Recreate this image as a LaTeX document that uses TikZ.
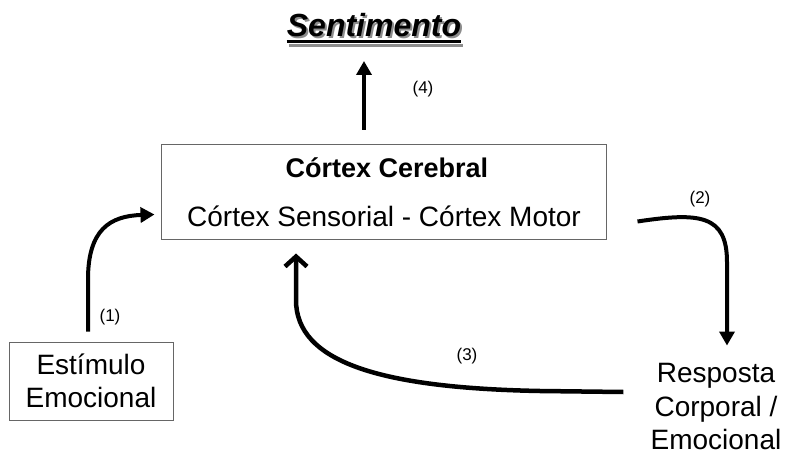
\documentclass[tikz,border=0pt]{standalone}
\usepackage{fontspec}
\setmainfont{Liberation Sans}
\usetikzlibrary{arrows.meta}
\begin{document}
\begin{tikzpicture}[x=1pt,y=-1pt,
  box/.style={draw=black!60, line width=1pt, inner sep=0pt},
  txt/.style={font=\fontsize{28}{33.5}\selectfont, inner sep=0pt, align=center},
  lbl/.style={font=\fontsize{17}{20}\selectfont, inner sep=0pt},
  ttl/.style={font=\fontsize{32}{38}\selectfont\bfseries\itshape, inner sep=0pt, anchor=base},
  arr/.style={line width=4pt, -{Triangle[length=14pt,width=15pt]}},
  arrb/.style={line width=4.5pt, -{Straight Barb[length=10pt,width=22pt]}}
]
\fill[white] (0,0) rectangle (785,460);
\useasboundingbox (0,0) rectangle (785,460);

% title with shadow
\node[ttl, text=black!45] (sentsh) at (376,39) {Sentimento};
\draw[line width=3pt, black!45] ([yshift=-7pt]sentsh.base west) -- ([yshift=-7pt]sentsh.base east);
\node[ttl] (sent) at (374,37) {Sentimento};
\draw[line width=3pt] ([yshift=-5pt]sent.base west) -- ([yshift=-5pt]sent.base east);

% boxes
\node[box, minimum width=445pt, minimum height=95pt] (cortex) at (383.5,191.5) {};
\node[txt, font=\fontsize{27}{32}\selectfont\bfseries, anchor=base] (cc) at (387,177) {Córtex Cerebral};
\node[txt, anchor=base] (cs) at (384,226) {Córtex Sensorial - Córtex Motor};

\node[box, txt, minimum width=164pt, minimum height=78pt] (est) at (91,381) {Estímulo\\Emocional};

\node[txt] (resp) at (716,407) {Resposta\\Corporal /\\Emocional};

% arrows
\draw[arr] ([xshift=-19.5pt,yshift=14pt]cortex.north) -- ([xshift=-10pt,yshift=-24pt]sent.base);
\draw[arr] ([xshift=-3pt,yshift=10pt]est.north) -- ++(0,-52)
  .. controls +(0,-50) and (110,216) .. ([xshift=-6pt,yshift=-23pt]cortex.west);
\draw[arr] ([xshift=31pt,yshift=-30pt]cortex.east)
  .. controls (700,212) and (727,215) .. (727,262) -- ([xshift=11pt,yshift=18pt]resp.north);
\draw[arrb] ([xshift=-27pt,yshift=15pt]resp.west) -- (540,391)
  .. controls (380,388) and (296,362) .. (296,300) -- ([xshift=-87.5pt,yshift=-14pt]cortex.south);

% labels
\node[lbl] (l1) at (110,317) {(1)};
\node[lbl] (l2) at (700,199) {(2)};
\node[lbl] (l3) at (467,356) {(3)};
\node[lbl] (l4) at (423,89) {(4)};
\end{tikzpicture}
\end{document}
